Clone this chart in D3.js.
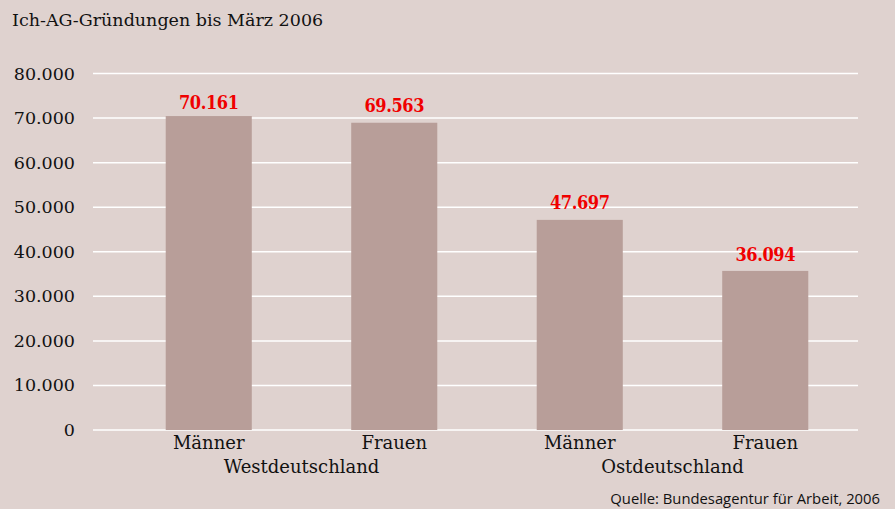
<!DOCTYPE html>
<html>
<head>
<meta charset="utf-8">
<script src="https://cdn.jsdelivr.net/npm/d3@7"></script>
<style>
  body { margin: 0; background: #dfd2cf; }
  svg { display: block; }
  .serif { font-family: "DejaVu Serif", serif; }
</style>
</head>
<body>
<div id="chart"></div>
<script>
const categories = ['Männer', 'Frauen', 'Männer', 'Frauen'];
const groups = ['Westdeutschland', 'Westdeutschland', 'Ostdeutschland', 'Ostdeutschland'];
// printed labels
const values = [70161, 69563, 47697, 36094];
// bar heights as drawn in the original
const barHeights = [70450, 68950, 47150, 35700];
const yTicks = [0, 10000, 20000, 30000, 40000, 50000, 60000, 70000, 80000];

const width = 895;
const height = 509;

const svg = d3.select('#chart').append('svg')
    .attr('width', width)
    .attr('height', height);

svg.append('rect')
    .attr('width', width)
    .attr('height', height)
    .attr('fill', '#dfd2cf');

const fmt = d3.formatLocale({ decimal: ',', thousands: '.', grouping: [3], currency: ['', '€'] }).format(',');

const y = d3.scaleLinear().domain([0, 80000]).range([430, 73.5]);
const x = d3.scaleBand()
    .domain(d3.range(values.length))
    .range([116, 858])
    .paddingInner(0.536)
    .paddingOuter(0.268);

// gridlines
svg.append('g').selectAll('line')
    .data(yTicks)
    .join('line')
    .attr('x1', 93)
    .attr('x2', 858)
    .attr('y1', d => y(d))
    .attr('y2', d => y(d))
    .attr('stroke', '#ffffff')
    .attr('stroke-width', 1.5);

// tick labels
svg.append('g').selectAll('text')
    .data(yTicks)
    .join('text')
    .attr('class', 'serif')
    .attr('x', 75)
    .attr('y', d => y(d) + 6)
    .attr('text-anchor', 'end')
    .attr('font-size', 17.5)
    .attr('fill', '#111')
    .text(d => fmt(d));

// bars
svg.append('g').selectAll('rect')
    .data(barHeights)
    .join('rect')
    .attr('x', (d, i) => x(i))
    .attr('y', d => y(d))
    .attr('width', x.bandwidth())
    .attr('height', d => y(0) - y(d))
    .attr('fill', '#b89e99');

// value labels
svg.append('g').selectAll('text')
    .data(values)
    .join('text')
    .attr('class', 'serif')
    .attr('x', (d, i) => x(i) + x.bandwidth() / 2)
    .attr('y', d => y(d) - 8)
    .attr('text-anchor', 'middle')
    .attr('font-size', 18)
    .attr('font-weight', 'bold')
    .attr('font-stretch', 'condensed')
    .attr('letter-spacing', -0.4)
    .style('font-family', '"DejaVu Serif Condensed", "DejaVu Serif", serif')
    .attr('fill', '#f00000')
    .text(d => fmt(d));

// category labels
svg.append('g').selectAll('text')
    .data(categories)
    .join('text')
    .attr('class', 'serif')
    .attr('x', (d, i) => x(i) + x.bandwidth() / 2)
    .attr('y', 449)
    .attr('text-anchor', 'middle')
    .attr('font-size', 18)
    .attr('fill', '#111')
    .text(d => d);

// group labels
const groupNames = Array.from(new Set(groups));
svg.append('g').selectAll('text')
    .data(groupNames)
    .join('text')
    .attr('class', 'serif')
    .attr('x', g => {
        const idx = d3.range(groups.length).filter(i => groups[i] === g);
        return (x(idx[0]) + x(idx[idx.length - 1]) + x.bandwidth()) / 2;
    })
    .attr('y', 473)
    .attr('text-anchor', 'middle')
    .attr('font-size', 18)
    .attr('fill', '#111')
    .text(d => d);

svg.append('text')
    .attr('class', 'serif')
    .attr('x', 12)
    .attr('y', 26)
    .attr('font-size', 17.5)
    .attr('fill', '#111')
    .text('Ich-AG-Gründungen bis März 2006');

svg.append('text')
    .attr('x', 880)
    .attr('y', 504)
    .attr('text-anchor', 'end')
    .attr('font-family', '"Open Sans", sans-serif')
    .attr('font-size', 14.8)
    .attr('fill', '#111')
    .text('Quelle: Bundesagentur für Arbeit, 2006');
</script>
</body>
</html>
